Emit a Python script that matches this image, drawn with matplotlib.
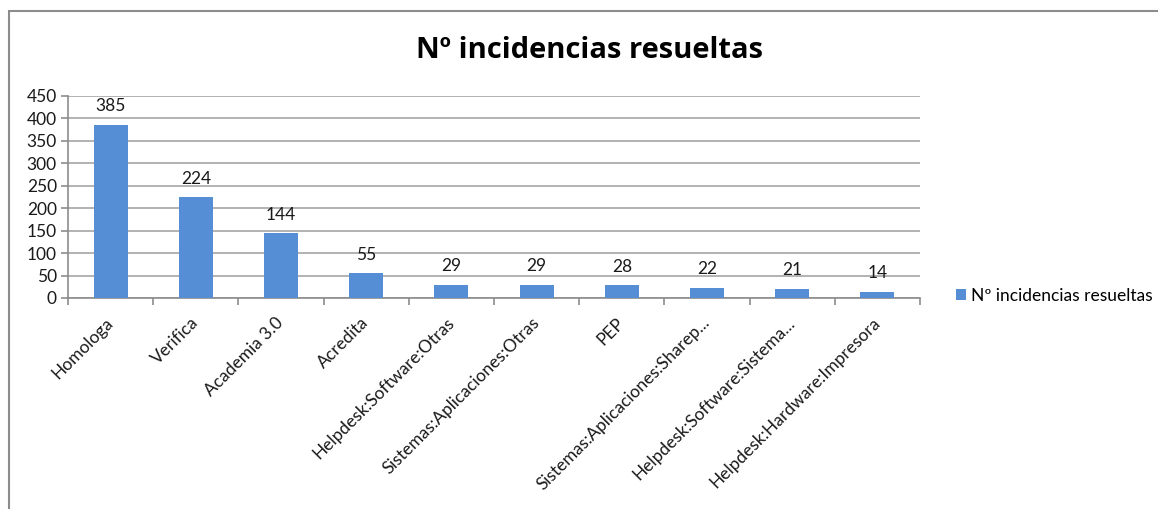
import numpy as np
import matplotlib.pyplot as plt
from matplotlib.patches import Rectangle

categorias = ["Homologa", "Verifica", "Academia 3.0", "Acredita",
              "Helpdesk:Software:Otras", "Sistemas:Aplicaciones:Otras", "PEP",
              "Sistemas:Aplicaciones:Sharep...", "Helpdesk:Software:Sistema...",
              "Helpdesk:Hardware:Impresora"]
incidencias = [385, 224, 144, 55, 29, 29, 28, 22, 21, 14]
yticks = [0, 50, 100, 150, 200, 250, 300, 350, 400, 450]
titulo = "Nº incidencias resueltas"

plt.rcParams["font.family"] = ["Lato", "DejaVu Sans"]

W, H = 1158, 509
fig = plt.figure(figsize=(W / 100, H / 100), dpi=100)
ax = fig.add_axes([68 / W, 1 - 298 / H, (920 - 68) / W, (298 - 96) / H])

# marco del gráfico (sólo se ven borde superior e izquierdo)
fig.patches.append(Rectangle((9 / W, -0.1), 1.2, 1 - 11 / H + 0.1,
                             transform=fig.transFigure, fill=False,
                             edgecolor="#8c8c8c", linewidth=1.5))

x = np.arange(len(categorias))
ax.bar(x, incidencias, width=0.4, color="#558ED5", zorder=3, label=titulo)
for xi, v in zip(x, incidencias):
    ax.text(xi, v + 24, str(v), ha="center", va="bottom", fontsize=12.5,
            color="#1a1a1a")

ax.set_xlim(-0.5, len(categorias) - 0.5)
ax.set_ylim(0, 450)
ax.set_yticks(yticks)
ax.set_yticklabels([str(t) for t in yticks], fontsize=12.5, color="#1a1a1a")
ax.yaxis.grid(True, color="#a6a6a6", linewidth=1.2, zorder=0)
ax.set_axisbelow(True)

ax.set_xticks(x)
ax.set_xticklabels(categorias, rotation=45, ha="right", va="center",
                   rotation_mode="anchor", fontsize=12.5, color="#1a1a1a")
ax.tick_params(axis="x", which="major", length=0, pad=16)
ax.set_xticks(np.arange(len(categorias) + 1) - 0.5, minor=True)
ax.tick_params(axis="x", which="minor", length=5, color="#8c8c8c", width=1.2)
ax.tick_params(axis="y", length=5, color="#8c8c8c", width=1.2, pad=3)

for s in ["top", "right"]:
    ax.spines[s].set_visible(False)
for s in ["left", "bottom"]:
    ax.spines[s].set_color("#8c8c8c")
    ax.spines[s].set_linewidth(1.2)

fig.text(590 / W, 1 - 50 / H, titulo, ha="center", va="center",
         fontsize=21, fontweight="bold", color="#000000",
         family=["Open Sans", "DejaVu Sans"])

ax.legend(loc="center left", bbox_to_anchor=(940 / W, 1 - 296 / H),
          bbox_transform=fig.transFigure, frameon=False, fontsize=12.5,
          handlelength=0.6, handleheight=0.6, handletextpad=0.3)

fig.savefig("out.png", dpi=100, facecolor="white")
